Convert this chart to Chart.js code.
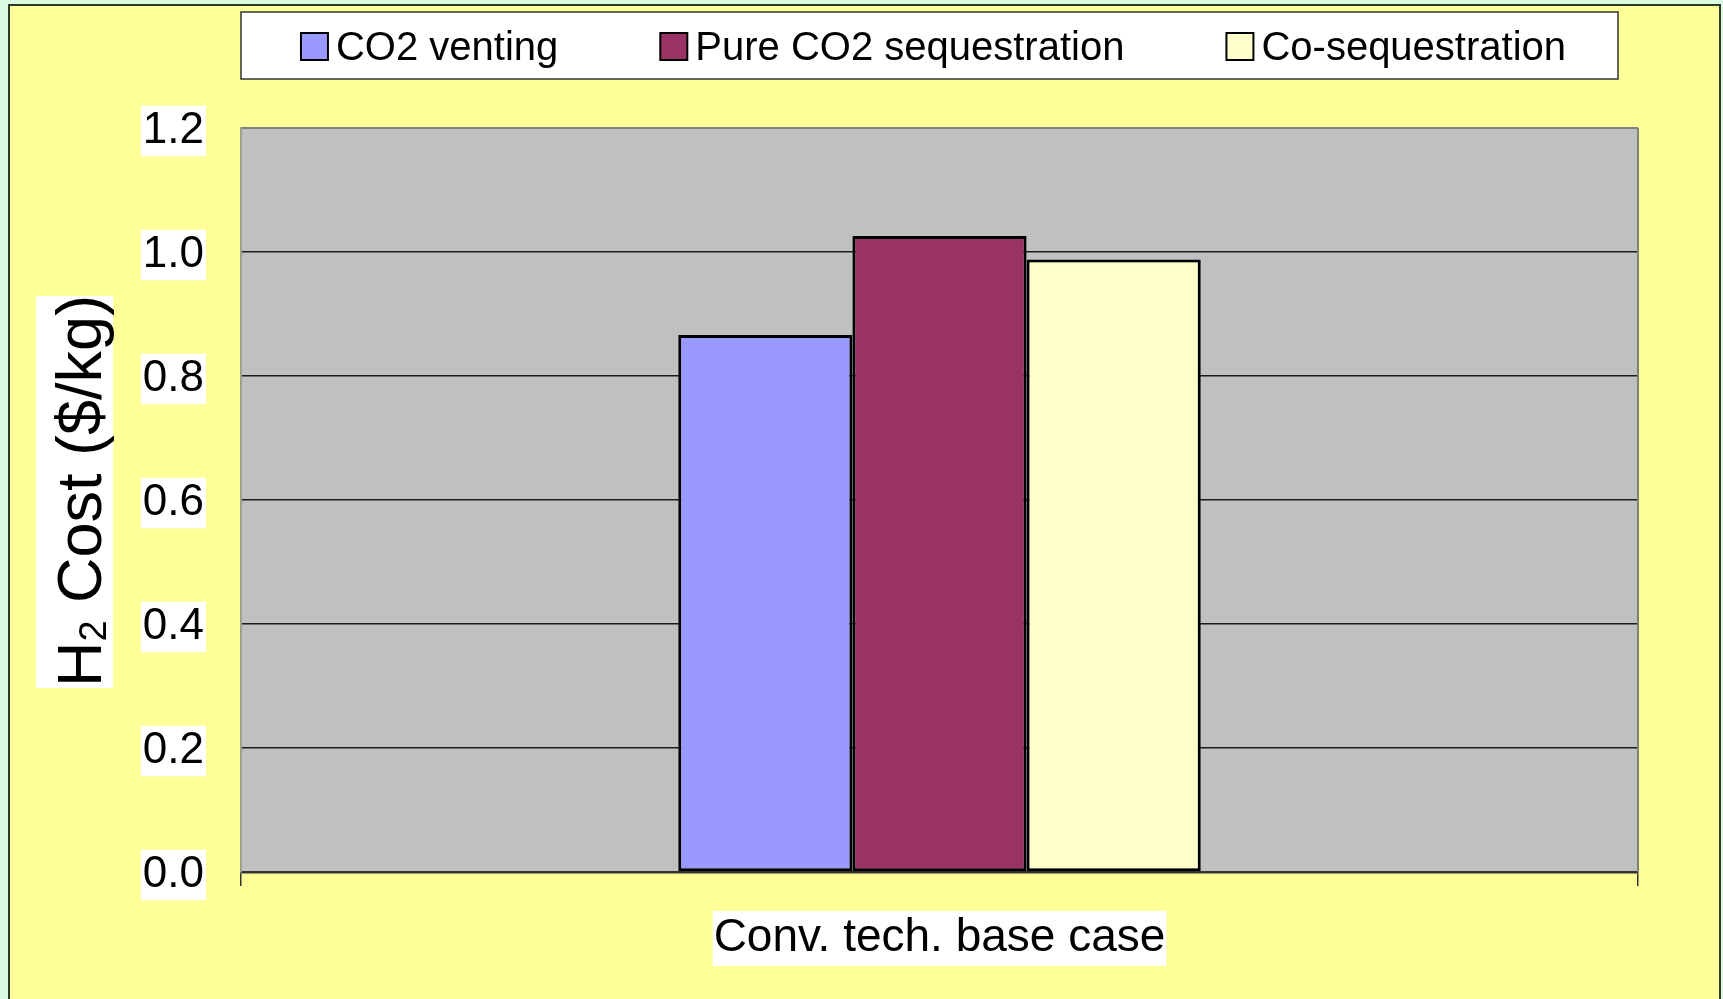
<!DOCTYPE html>
<html>
<head>
<meta charset="utf-8">
<script src="https://cdn.jsdelivr.net/npm/chart.js@4.4.1/dist/chart.umd.min.js"></script>
<style>
html, body { margin: 0; padding: 0; background: #dcfce2; overflow: hidden; }
#wrap { position: relative; width: 1723px; height: 999px; }
</style>
</head>
<body>
<div id="wrap"><canvas id="costChart"></canvas></div>
<script>
var categories = ['Conv. tech. base case'];
var seriesNames = ['CO2 venting', 'Pure CO2 sequestration', 'Co-sequestration'];
var ventingCost = [0.866];
var pureSeqCost = [1.026];
var coSeqCost = [0.988];
var seriesColors = ['#9999ff', '#993366', '#ffffcc'];
var yTicks = [0, 0.2, 0.4, 0.6, 0.8, 1.0, 1.2];

var FONT = '"Liberation Sans", Arial, sans-serif';

// yellow slide frame + grey plot area
var backgroundPlugin = {
    id: 'background',
    beforeDraw: function(chart) {
        var ctx = chart.ctx;
        var a = chart.chartArea;
        ctx.save();
        ctx.fillStyle = '#dcfce2';
        ctx.fillRect(0, 0, chart.width, chart.height);
        ctx.fillStyle = '#ffff99';
        ctx.fillRect(9, 5, 1711, 1000);
        ctx.strokeStyle = '#2b3a2b';
        ctx.lineWidth = 2;
        ctx.strokeRect(9, 5, 1711, 1000);
        ctx.fillStyle = '#c0c0c0';
        ctx.fillRect(a.left, a.top, a.right - a.left, a.bottom - a.top);
        ctx.restore();
    },
    afterDraw: function(chart) {
        var ctx = chart.ctx;
        var a = chart.chartArea;
        ctx.save();
        ctx.strokeStyle = '#808080';
        ctx.lineWidth = 2;
        ctx.beginPath();
        ctx.moveTo(a.right, a.top);
        ctx.lineTo(a.right, a.bottom);
        ctx.stroke();
        ctx.restore();
    }
};

// boxed legend across the top
var boxLegendPlugin = {
    id: 'boxLegend',
    afterDraw: function(chart) {
        var ctx = chart.ctx;
        var lx = 241, ly = 12, lw = 1377, lh = 67;
        var box = 27, gap = 102, textGap = 8;
        ctx.save();
        ctx.fillStyle = '#ffffff';
        ctx.fillRect(lx, ly, lw, lh);
        ctx.strokeStyle = '#333333';
        ctx.lineWidth = 1.5;
        ctx.strokeRect(lx, ly, lw, lh);
        ctx.font = '40px ' + FONT;
        var widths = chart.data.datasets.map(function(ds) {
            return box + textGap + ctx.measureText(ds.label).width;
        });
        var total = widths.reduce(function(s, w) { return s + w; }, 0) + gap * (widths.length - 1);
        var x = lx + lw / 2 - total / 2 + 4;
        var base = 60;
        chart.data.datasets.forEach(function(ds, i) {
            ctx.fillStyle = ds.backgroundColor;
            ctx.fillRect(x, 33, box, box);
            ctx.strokeStyle = '#000';
            ctx.lineWidth = 2;
            ctx.strokeRect(x, 33, box, box);
            ctx.fillStyle = '#000';
            ctx.textBaseline = 'alphabetic';
            ctx.textAlign = 'left';
            ctx.fillText(ds.label, x + box + textGap, base);
            x += widths[i] + gap;
        });
        ctx.restore();
    }
};

// y axis title with subscript and white backdrop
var yTitlePlugin = {
    id: 'yTitle',
    afterDraw: function(chart) {
        var ctx = chart.ctx;
        var cx = 101, cy = 491;
        ctx.save();
        ctx.fillStyle = '#ffffff';
        ctx.fillRect(36, 296, 77, 392);
        ctx.translate(cx, cy);
        ctx.rotate(-Math.PI / 2);
        ctx.fillStyle = '#000';
        ctx.textBaseline = 'alphabetic';
        ctx.textAlign = 'left';
        var big = '63px ' + FONT, small = '38px ' + FONT;
        ctx.font = big;
        var wH = ctx.measureText('H').width;
        var wRest = ctx.measureText(' Cost ($/kg)').width;
        ctx.font = small;
        var w2 = ctx.measureText('2').width;
        var x = -(wH + w2 + wRest) / 2;
        ctx.font = big;
        ctx.fillText('H', x, 0);
        ctx.font = small;
        ctx.fillText('2', x + wH, 5);
        ctx.font = big;
        ctx.fillText(' Cost ($/kg)', x + wH + w2, 0);
        ctx.restore();
    }
};

var ctx = document.getElementById('costChart').getContext('2d');

var data = {
    labels: categories,
    datasets: [{
        label: seriesNames[0],
        data: ventingCost,
        backgroundColor: seriesColors[0]
    }, {
        label: seriesNames[1],
        data: pureSeqCost,
        backgroundColor: seriesColors[1]
    }, {
        label: seriesNames[2],
        data: coSeqCost,
        backgroundColor: seriesColors[2]
    }]
};

data.datasets.forEach(function(ds) {
    ds.borderColor = '#000000';
    ds.borderWidth = 3;
    ds.borderSkipped = false;
    ds.barPercentage = 1.0;
    ds.categoryPercentage = 0.374;
});

var myChart = new Chart(ctx, {
    type: 'bar',
    data: data,
    plugins: [backgroundPlugin, boxLegendPlugin, yTitlePlugin],
    options: {
        responsive: true,
        maintainAspectRatio: false,
        animation: false,
        layout: {
            padding: { left: 0, right: 85, top: 128, bottom: 0 }
        },
        plugins: {
            legend: { display: false },
            tooltip: { enabled: false }
        },
        scales: {
            x: {
                afterFit: function(scale) { scale.height = 127; },
                grid: {
                    drawOnChartArea: false,
                    drawTicks: true,
                    tickLength: 14,
                    color: '#333333',
                    lineWidth: 1.5
                },
                border: { color: '#333333', width: 2.5 },
                ticks: {
                    color: '#000',
                    font: { family: FONT, size: 46, lineHeight: 1.15 },
                    padding: 26,
                    showLabelBackdrop: true,
                    backdropColor: '#ffffff',
                    backdropPadding: { x: 1, y: 1 }
                }
            },
            y: {
                min: 0,
                max: 1.2,
                afterFit: function(scale) { scale.width = 241; },
                afterBuildTicks: function(scale) {
                    scale.ticks = yTicks.map(function(v) { return { value: v }; });
                },
                grid: {
                    drawTicks: false,
                    color: function(c) {
                        return c.tick && c.tick.value === 1.2 ? '#808080' : '#1a1a1a';
                    },
                    lineWidth: function(c) {
                        return c.tick && c.tick.value === 1.2 ? 2 : 1.5;
                    }
                },
                border: { color: '#a0a090', width: 2 },
                ticks: {
                    color: '#000',
                    font: { family: FONT, size: 44, lineHeight: 1.1 },
                    padding: 37,
                    labelOffset: 3,
                    showLabelBackdrop: true,
                    backdropColor: '#ffffff',
                    backdropPadding: { x: 2, y: 1 },
                    callback: function(v) { return Number(v).toFixed(1); }
                }
            }
        }
    }
});
</script>
</body>
</html>
